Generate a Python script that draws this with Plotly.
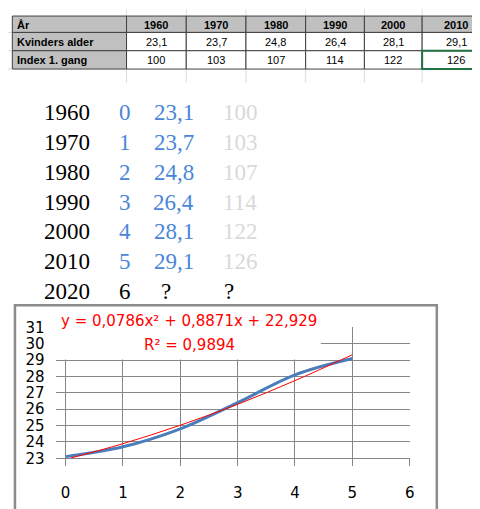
import plotly.graph_objects as go

# Data
years = [1960, 1970, 1980, 1990, 2000, 2010]
x_index = [0, 1, 2, 3, 4, 5]
ages = [23.1, 23.7, 24.8, 26.4, 28.1, 29.1]
first_index = [100, 103, 107, 114, 122, 126]
next_year = 2020
next_x = 6
# trendline (polynomial, order 2)
trend_x = [0, 1, 2, 3, 4, 5]
trend_y = [22.93, 23.89, 25.02, 26.30, 27.75, 29.33]
trend_eq = "y = 0,0786x² + 0,8871x + 22,929"
trend_r2 = "R² = 0,9894"
row_labels = ["Kvinders alder", "Index 1. gang"]

# the page body keeps its default 8px margin, so the figure starts at (8, 8)
OFF = 8
W, H = 480 - OFF, 509 - OFF
GRID = "#878787"
BLUE_TXT = "#4a86d8"


def px(x):
    return (x - OFF) / W


def py(y):
    return 1 - (y - OFF) / H


def dk(v):
    return f"{v:.1f}".replace(".", ",")


fig = go.Figure()
shapes = []
annotations = []

# ── Excel table ───────────────────────────────────────────────────────────────
col_edges = [7.3, 124, 185, 246, 307, 367, 426, 496]
row_edges = [7, 24, 43, 62]
table = [["År"] + [str(y) for y in years],
         [row_labels[0]] + [dk(a) for a in ages],
         [row_labels[1]] + [str(i) for i in first_index]]

# faint spreadsheet gridlines
for gx in col_edges[1:-1]:
    shapes.append(dict(type="line", xref="paper", yref="paper", layer="below",
                       x0=px(gx), x1=px(gx), y0=py(0), y1=py(76),
                       line=dict(color="#dcdcdc", width=1)))
for gy in row_edges[1:]:
    shapes.append(dict(type="line", xref="paper", yref="paper", layer="below",
                       x0=px(0), x1=px(7), y0=py(gy), y1=py(gy),
                       line=dict(color="#dcdcdc", width=1)))

cellfont = dict(family="Liberation Sans", size=11, color="black")
for r, row in enumerate(table):
    for c, val in enumerate(row):
        head = r == 0 or c == 0
        x0, x1 = col_edges[c], col_edges[c + 1]
        y0, y1 = row_edges[r], row_edges[r + 1]
        shapes.append(dict(type="rect", xref="paper", yref="paper", layer="below",
                           x0=px(x0), x1=px(x1), y0=py(y1), y1=py(y0),
                           fillcolor="#c0c0c0" if head else "white",
                           line=dict(color="#404040", width=1)))
        annotations.append(dict(
            x=px(x0 + 3) if c == 0 else px((x0 + x1) / 2), y=py((y0 + y1) / 2 + 0.5),
            xref="paper", yref="paper", showarrow=False,
            xanchor="left" if c == 0 else "center", yanchor="middle",
            text=f"<b>{val}</b>" if head else val, font=cellfont))
# selected cell
shapes.append(dict(type="rect", xref="paper", yref="paper", layer="below",
                   x0=px(426), x1=px(496), y0=py(62), y1=py(43),
                   line=dict(color="#217346", width=2)))

# ── number list ──────────────────────────────────────────────────────────────
serif = dict(family="Liberation Serif", size=23)
for k, (yr, xi, a, ix) in enumerate(zip(years, x_index, ages, first_index)):
    yc = 107 + 31 * k
    for xc, txt, col in [(63.5, str(yr), "black"), (122.5, str(xi), BLUE_TXT),
                         (172, dk(a), BLUE_TXT), (240, str(ix), "#d9d9d9")]:
        annotations.append(dict(x=px(xc), y=py(yc), xref="paper", yref="paper",
                                text=txt, showarrow=False, xanchor="center", yanchor="middle",
                                font=dict(serif, color=col)))
yc = 107 + 31 * 6
for xc, txt in [(63.5, str(next_year)), (122.5, str(next_x)), (164, "?"), (229, "?")]:
    annotations.append(dict(x=px(xc), y=py(yc), xref="paper", yref="paper",
                            text=txt, showarrow=False, xanchor="center", yanchor="middle",
                            font=dict(serif, color="black")))

# ── chart ────────────────────────────────────────────────────────────────────
fig.add_trace(go.Scatter(
    x=x_index, y=ages, mode="lines", line=dict(color="#4a7ebb", width=3, shape="spline"),
    showlegend=False, hoverinfo="skip",
))
fig.add_trace(go.Scatter(
    x=trend_x, y=trend_y, mode="lines", xaxis="x2",
    line=dict(color="#ff0000", width=1, shape="spline"),
    showlegend=False, hoverinfo="skip",
))

# chart frame and trendline label box
shapes.append(dict(type="rect", xref="paper", yref="paper", layer="below",
                   x0=px(10), x1=px(441), y0=py(520), y1=py(307),
                   line=dict(color="#8c8c8c", width=2.5)))
shapes.append(dict(type="rect", xref="paper", yref="paper", layer="above",
                   x0=px(45), x1=px(322.5), y0=py(363.3), y1=py(309),
                   fillcolor="white", line=dict(width=0)))
red = dict(family="DejaVu Sans", size=15, color="#ff0000")
annotations.append(dict(x=px(187.5), y=py(323), xref="paper", yref="paper", text=trend_eq,
                        showarrow=False, xanchor="center", yanchor="middle", font=red))
annotations.append(dict(x=px(188), y=py(348), xref="paper", yref="paper", text=trend_r2,
                        showarrow=False, xanchor="center", yanchor="middle", font=red))

tickfont = dict(family="DejaVu Sans", size=15, color="black")
xdom = [px(61.7), px(413.3)]
fig.update_layout(
    width=W, height=H, autosize=False,
    margin=dict(l=0, r=0, t=0, b=0),
    paper_bgcolor="white", plot_bgcolor="white",
    shapes=shapes, annotations=annotations,
    xaxis=dict(domain=xdom, range=[0, 6], tickvals=[0, 1, 2, 3, 4, 5, 6],
               showgrid=False, zeroline=False, showline=True, linecolor=GRID,
               ticks="outside", ticklen=7, tickcolor=GRID, tickfont=tickfont,
               ticklabelstandoff=14, fixedrange=True),
    xaxis2=dict(domain=xdom, range=[0, 6], overlaying="x", anchor="y",
                tickvals=[0, 1, 2, 3, 4, 5], showticklabels=False, ticks="",
                showgrid=True, gridcolor=GRID, zeroline=False, showline=False),
    yaxis=dict(domain=[py(465.7), py(330)], range=[23, 31], dtick=1,
               showgrid=True, gridcolor=GRID, zeroline=False, showline=True,
               linecolor=GRID, ticks="outside", ticklen=9, tickcolor=GRID,
               tickfont=tickfont, ticklabelstandoff=8, fixedrange=True),
)

fig.write_html("out.html")
